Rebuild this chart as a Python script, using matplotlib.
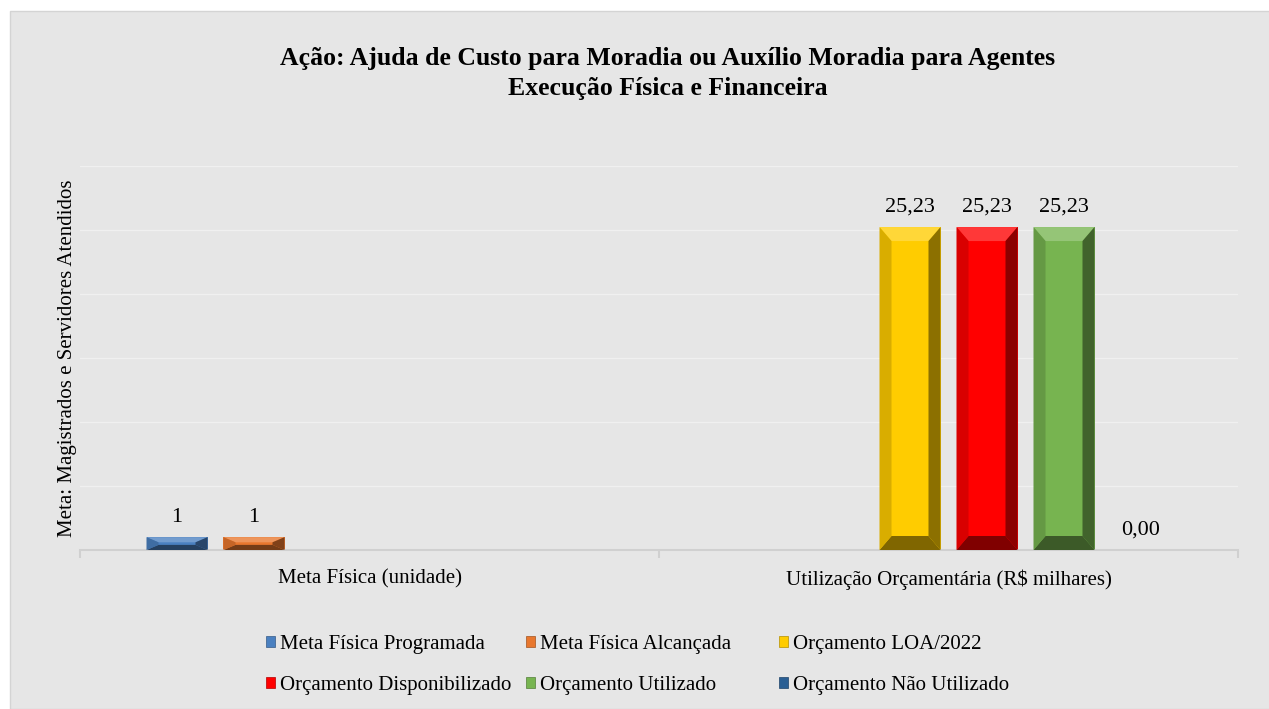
import numpy as np
import matplotlib
matplotlib.use("Agg")
import matplotlib.pyplot as plt
from matplotlib.patches import Rectangle, Patch
from matplotlib.colors import to_rgb

plt.rcParams['font.family'] = ['Liberation Serif', 'DejaVu Serif']

categories = ["Meta Física (unidade)", "Utilização Orçamentária (R$ milhares)"]
series = ["Meta Física Programada", "Meta Física Alcançada", "Orçamento LOA/2022",
          "Orçamento Disponibilizado", "Orçamento Utilizado", "Orçamento Não Utilizado"]
prog = [1, np.nan]
alc = [1, np.nan]
loa = [np.nan, 25.23]
disp = [np.nan, 25.23]
util = [np.nan, 25.23]
nao_util = [np.nan, 0.00]
values = [prog, alc, loa, disp, util, nao_util]
colors = ["#4a80c0", "#e8772e", "#ffcc00", "#ff0000", "#77b450", "#2a5f94"]

bg = "#e6e6e6"
fig = plt.figure(figsize=(12.69, 7.09), dpi=100)
fig.patch.set_facecolor("white")
fig.patches.append(Rectangle((10 / 1269, 0), 1, 1 - 11 / 709, transform=fig.transFigure,
                             facecolor=bg, edgecolor="#d4d4d4", lw=1, zorder=-10))

ax = fig.add_axes([80 / 1269, 1 - 550 / 709, 1158 / 1269, 384 / 709])
ax.patch.set_alpha(0)
ax.set_xlim(-0.5, 1.5)
ax.set_ylim(0, 30)
for s in ax.spines.values():
    s.set_visible(False)
ax.spines['bottom'].set_visible(True)
ax.spines['bottom'].set_color("#d0d0d0")
ax.spines['bottom'].set_linewidth(1.5)
ax.set_yticks(np.arange(0, 31, 5))
ax.yaxis.grid(True, color="#f0f0f0", lw=1)
ax.set_axisbelow(True)
ax.tick_params(axis='y', length=0, labelleft=False)
ax.set_xticks([0, 1])
ax.set_xticklabels(categories, fontsize=15)
ax.set_xticks([-0.5, 0.5, 1.5], minor=True)
ax.tick_params(axis='x', which='major', length=0, pad=14)
ax.tick_params(axis='x', which='minor', length=6, color="#d0d0d0", width=1.5, direction='out')
ax.set_ylabel("Meta: Magistrados e Servidores Atendidos", fontsize=15, labelpad=2)

slot = 77 / 579
width = 61 / 579
x = np.arange(len(categories))

fig.canvas.draw()
px_per_unit = ax.get_window_extent().height / 30
px_per_x = ax.get_window_extent().width / 2


def shade(c, f):
    r = np.array(to_rgb(c))
    if f >= 0:
        return tuple(r + (1 - r) * f)
    return tuple(r * (1 + f))


def bevel(rect, c):
    x0, y0 = rect.get_x(), rect.get_y()
    w, h = rect.get_width(), rect.get_height()
    if not np.isfinite(h) or h <= 0:
        return
    bx = min(12 / px_per_x, w / 2.5)
    by = min(14 / px_per_unit, h / 2.5)
    x1, y1 = x0 + w, y0 + h
    ax.fill([x0, x1, x1 - bx, x0 + bx], [y1, y1, y1 - by, y1 - by], color=shade(c, 0.22), lw=0, zorder=3)
    ax.fill([x1, x1, x1 - bx, x1 - bx], [y1, y0, y0 + by, y1 - by], color=shade(c, -0.45), lw=0, zorder=3)
    ax.fill([x0, x1, x1 - bx, x0 + bx], [y0, y0, y0 + by, y0 + by], color=shade(c, -0.5), lw=0, zorder=3)
    ax.fill([x0, x0, x0 + bx, x0 + bx], [y0, y1, y1 - by, y0 + by], color=shade(c, -0.15), lw=0, zorder=3)


for i, (vals, col, name) in enumerate(zip(values, colors, series)):
    pos = x + (i - 2.5) * slot
    bars = ax.bar(pos, vals, width, color=col, label=name, zorder=2)
    for j, (b, v) in enumerate(zip(bars, vals)):
        if np.isnan(v):
            continue
        bevel(b, col)
        txt = f"{v:.0f}" if j == 0 else f"{v:.2f}".replace(".", ",")
        ax.annotate(txt, (b.get_x() + b.get_width() / 2, v), xytext=(0, 11), textcoords="offset points",
                    ha="center", va="baseline", fontsize=16)

fig.text(668 / 1269, 1 - 59 / 709, "Ação: Ajuda de Custo para Moradia ou Auxílio Moradia para Agentes",
         ha="center", va="center", fontsize=18.5, fontweight="bold")
fig.text(668 / 1269, 1 - 88 / 709, "Execução Física e Financeira",
         ha="center", va="center", fontsize=18.5, fontweight="bold")

handles = [Patch(facecolor=c, edgecolor=shade(c, -0.3), lw=0.5) for c in colors]
col_x = [266, 526, 779]
for k in range(3):
    fig.legend([handles[k], handles[k + 3]], [series[k], series[k + 3]],
               loc="upper left", bbox_to_anchor=(col_x[k] / 1269, 1 - 635 / 709),
               frameon=False, fontsize=15, handlelength=0.45, handleheight=0.45,
               handletextpad=0.2, labelspacing=1.05, borderpad=0, borderaxespad=0)

fig.savefig("out.png", dpi=100, facecolor=fig.get_facecolor())
